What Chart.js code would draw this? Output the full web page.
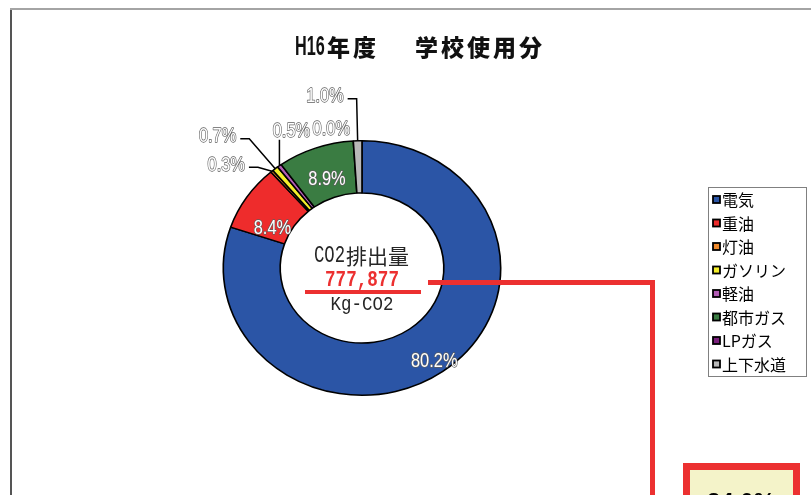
<!DOCTYPE html>
<html>
<head>
<meta charset="utf-8">
<script src="https://cdn.jsdelivr.net/npm/chart.js@4.4.0/dist/chart.umd.min.js"></script>
<style>
  html, body { margin: 0; padding: 0; background: #fff; }
  #wrap { width: 811px; height: 495px; }
</style>
</head>
<body>
<div id="wrap"><canvas id="chart" width="811" height="495"></canvas></div>
<script>
// H16 school CO2 breakdown by energy source (percent of total)
const categories = ['電気', '重油', '灯油', 'ガソリン', '軽油', '都市ガス', 'LPガス', '上下水道'];
const shares = [80.2, 8.4, 0.3, 0.7, 0.5, 8.9, 0.0, 1.0];
const colours = ['#2b55a6', '#ee2c2c', '#f08a2c', '#f4ee2a', '#b25cb4', '#3a7c42', '#7a1f7c', '#b9b9b9'];
const totalCO2 = '777,877';
const boxValue = '84.0%';

const RED = '#ec3030';
const STRETCH = 1.09; // doughnut is drawn slightly wider than tall

// big slices: label sits inside the ring, nudged a little
const insideNudge = { 0: [8, 11], 1: [2, 17], 5: [2, 7] };
// small slices get their labels outside, relative to the slice's outer edge
const callouts = {
  2: { dx: -27, dy: -6, align: 'right', leader: 'elbow' },
  3: { dx: -39, dy: -32, align: 'right', leader: 'elbow' },
  4: { dx: 12, dy: -34, align: 'center', leader: 'drop' },
  6: { dx: -22, dy: -12, align: 'center', leader: null },
  7: { dx: -14, dy: -44, align: 'right', leader: 'elbow' }
};

function outlined(ctx, text, x, y, align) {
  ctx.save();
  ctx.translate(x, y);
  ctx.scale(0.82, 1);
  ctx.font = '20px "Liberation Sans", sans-serif';
  ctx.textAlign = align;
  ctx.textBaseline = 'middle';
  ctx.lineJoin = 'round';
  ctx.strokeStyle = '#5e5e5e';
  ctx.lineWidth = 1.4;
  ctx.strokeText(text, 0, 0);
  ctx.fillStyle = '#fff';
  ctx.fillText(text, 0, 0);
  ctx.restore();
}

function squeezed(ctx, text, x, y, font, colour, sx, align) {
  ctx.save();
  ctx.translate(x, y);
  ctx.scale(sx, 1);
  ctx.font = font;
  ctx.fillStyle = colour;
  ctx.textAlign = align || 'center';
  ctx.textBaseline = 'middle';
  ctx.fillText(text, 0, 0);
  ctx.restore();
}

const decorations = {
  id: 'decorations',
  beforeDraw(chart) {
    const ctx = chart.ctx;
    ctx.save();
    ctx.fillStyle = '#fff';
    ctx.fillRect(0, 0, chart.width, chart.height);
    // sheet frame
    ctx.fillStyle = '#a4a4a4';
    ctx.fillRect(10, 8, chart.width - 10, 2);
    ctx.fillStyle = '#555';
    ctx.fillRect(10, 10, 2, chart.height - 10);
    ctx.restore();
  },
  beforeDatasetsDraw(chart) {
    const arc = chart.getDatasetMeta(0).data[0];
    const ctx = chart.ctx;
    ctx.save();
    ctx.translate(arc.x, arc.y);
    ctx.scale(STRETCH, 1);
    ctx.translate(-arc.x, -arc.y);
  },
  afterDatasetsDraw(chart) {
    const ctx = chart.ctx;
    ctx.restore();

    const arcs = chart.getDatasetMeta(0).data;
    const cx = arcs[0].x, cy = arcs[0].y;
    const at = (a, r) => ({ x: cx + Math.cos(a) * r * STRETCH, y: cy + Math.sin(a) * r });

    arcs.forEach((el, i) => {
      const p = el.getProps(['startAngle', 'endAngle', 'innerRadius', 'outerRadius'], true);
      const mid = (p.startAngle + p.endAngle) / 2;
      const text = shares[i].toFixed(1) + '%';
      const c = callouts[i];
      if (!c) {
        const pt = at(mid, (p.innerRadius + p.outerRadius) / 2);
        const n = insideNudge[i] || [0, 0];
        outlined(ctx, text, pt.x + n[0], pt.y + n[1], 'center');
        return;
      }
      const edge = at(mid, p.outerRadius);
      const lx = edge.x + c.dx, ly = edge.y + c.dy;
      ctx.save();
      ctx.strokeStyle = '#000';
      ctx.lineWidth = 1.5;
      ctx.beginPath();
      if (c.leader === 'elbow') {
        ctx.moveTo(lx + 4, ly + 2);
        ctx.lineTo(lx + 13, ly + 2);
        ctx.lineTo(edge.x, edge.y);
      } else if (c.leader === 'drop') {
        ctx.moveTo(edge.x, ly + 8);
        ctx.lineTo(edge.x, edge.y);
      }
      ctx.stroke();
      ctx.restore();
      outlined(ctx, text, lx, ly, c.align);
    });

    // centre caption
    squeezed(ctx, 'CO2', cx - 48, 256, '24px "Liberation Mono", monospace', '#262626', 0.72, 'left');
    squeezed(ctx, '排出量', cx - 16, 256, '21px "Noto Sans CJK JP"', '#262626', 1, 'left');
    squeezed(ctx, totalCO2, cx, 280, 'bold 22px "Liberation Mono", monospace', RED, 0.8);
    squeezed(ctx, 'Kg-CO2', cx, 304, '21px "Liberation Mono", monospace', '#262626', 0.83);
  },
  afterDraw(chart) {
    const ctx = chart.ctx;
    ctx.save();

    // title
    ctx.fillStyle = '#111';
    ctx.textBaseline = 'middle';
    ctx.textAlign = 'left';
    ctx.save();
    ctx.translate(295, 47);
    ctx.scale(0.58, 1);
    ctx.font = 'bold 28px "Liberation Sans", sans-serif';
    ctx.fillText('H16', 0, 0);
    ctx.restore();
    ctx.font = '900 23px "Noto Sans CJK JP"';
    ctx.letterSpacing = '3px';
    ctx.fillText('年度', 327, 47);
    ctx.fillText('学校使用分', 415, 47);
    ctx.letterSpacing = '0px';

    // legend
    ctx.strokeStyle = '#808080';
    ctx.lineWidth = 1;
    ctx.strokeRect(708.5, 187.5, 98, 189);
    ctx.font = '16px "Noto Sans CJK JP"';
    categories.forEach((name, i) => {
      const y = 200 + i * 23.5;
      ctx.fillStyle = colours[i];
      ctx.fillRect(713, y - 4, 7, 7);
      ctx.strokeStyle = '#000';
      ctx.lineWidth = 1.8;
      ctx.strokeRect(713, y - 4, 7, 7);
      ctx.fillStyle = '#000';
      ctx.fillText(name, 722, y);
    });

    // red call-out from the total down to the reduction box
    ctx.fillStyle = RED;
    ctx.fillRect(305, 290, 116, 4);
    ctx.fillRect(428, 280, 227, 5);
    ctx.fillRect(650, 280, 5, chart.height - 280);
    ctx.fillRect(683, 463, 117, 40);
    ctx.fillStyle = '#f4f3c9';
    ctx.fillRect(690, 470, 103, 30);
    ctx.fillStyle = '#000';
    ctx.font = 'bold 24px "Liberation Sans", sans-serif';
    ctx.textAlign = 'center';
    ctx.textBaseline = 'alphabetic';
    ctx.fillText(boxValue, 741, 510);
    ctx.restore();
  }
};

new Chart(document.getElementById('chart'), {
  type: 'doughnut',
  data: {
    labels: categories,
    datasets: [{
      data: shares,
      backgroundColor: colours,
      borderColor: '#000',
      borderWidth: 1.5
    }]
  },
  options: {
    responsive: false,
    animation: false,
    cutout: '59%',
    layout: { padding: { left: 234, right: 321, top: 140, bottom: 99 } },
    plugins: {
      legend: { display: false },
      title: { display: false },
      tooltip: { enabled: false }
    }
  },
  plugins: [decorations]
});
</script>
</body>
</html>
